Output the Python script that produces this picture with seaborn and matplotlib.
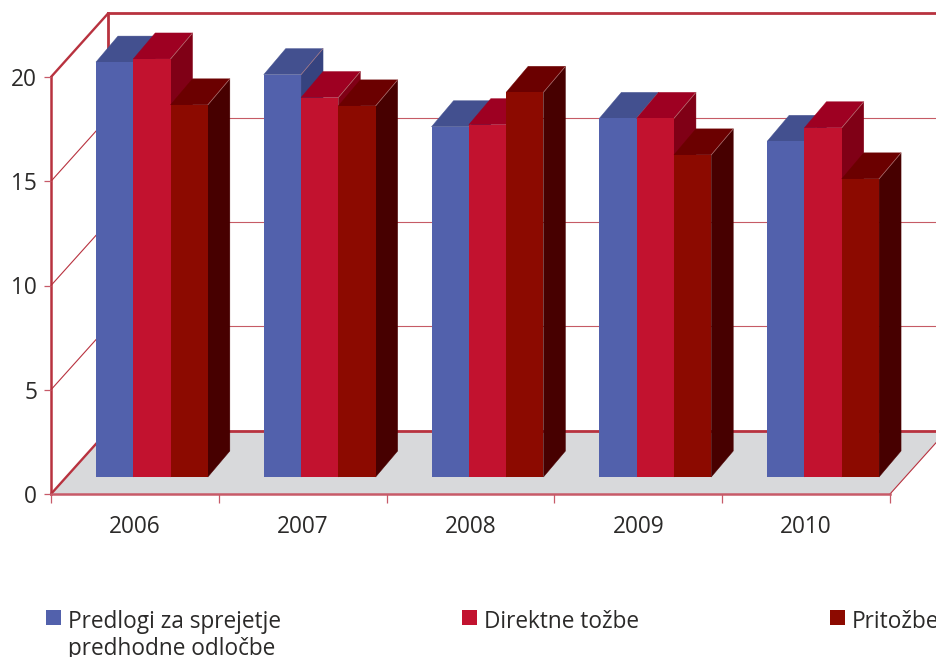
import matplotlib
matplotlib.use("Agg")
import matplotlib.pyplot as plt
from matplotlib.legend import Legend
from matplotlib.offsetbox import HPacker
from matplotlib.patches import Patch, Polygon
import pandas as pd
import seaborn as sns

years = ["2006", "2007", "2008", "2009", "2010"]
predlogi = [19.9, 19.3, 16.8, 17.2, 16.1]
direktne = [20.05, 18.2, 16.9, 17.2, 16.75]
pritozbe = [17.85, 17.8, 18.45, 15.45, 14.3]
series_names = ["Predlogi za sprejetje\npredhodne odločbe", "Direktne tožbe", "Pritožbe"]
y_ticks = [0, 5, 10, 15, 20]

front_colors = ["#5261AC", "#C2122F", "#8C0A00"]
top_colors = ["#43508F", "#9E0022", "#6B0000"]
side_colors = ["#36437F", "#800016", "#470000"]
WALL = "#B8323F"
FLOOR = "#D8D9DB"
TEXT = "#2B2A29"

W, H = 937, 657
DPI = 100
FS = 16.3
plt.rcParams["font.family"] = ["Open Sans", "DejaVu Sans"]

sx = 167.8   # px per category
sy = 20.85   # px per value unit
x0_px, y0_px = 51, 494

fig = plt.figure(figsize=(W / DPI, H / DPI), dpi=DPI)
ax = fig.add_axes([0, 0, 1, 1])
df = pd.DataFrame({
    "year": years * 3,
    "value": predlogi + direktne + pritozbe,
    "series": [s for s in series_names for _ in years],
})
sns.barplot(data=df, x="year", y="value", hue="series", palette=front_colors,
            hue_order=series_names, order=years, width=0.667, gap=0, dodge=True,
            saturation=1, legend=False, errorbar=None, ax=ax)
ax.set_xlim(-0.5 - x0_px / sx, -0.5 + (W - x0_px) / sx)
ax.set_ylim(-(H - y0_px) / sy, y0_px / sy)
ax.patch.set_alpha(0)

# depth of walls and bars, in px converted to data units
wall_dx, wall_dy = 57 / sx, 63.5 / sy
lift_dx, lift_dy = 17 / sx, 17 / sy
bar_dx, bar_dy = 22 / sx, 26 / sy
right = 4.5

# floor and walls
ax.add_patch(Polygon([(-0.5, 0), (-0.5 + wall_dx, wall_dy), (right + wall_dx, wall_dy), (right, 0)],
                     closed=True, fc=FLOOR, ec="none", zorder=0.5))
back_y = [wall_dy + v for v in y_ticks]
for v, by in zip(y_ticks, back_y):
    thick = v in (0, 20)
    ax.plot([-0.5, -0.5 + wall_dx], [v, by], color=WALL, lw=1.7 if thick else 0.8, zorder=1,
            solid_capstyle="round")
    ax.plot([-0.5 + wall_dx, right + wall_dx], [by, by], color=WALL, lw=2.0 if thick else 0.8,
            alpha=1 if thick else 0.8, zorder=1)
ax.plot([-0.5 + wall_dx] * 2, [back_y[0], back_y[-1]], color=WALL, lw=2.0, zorder=1)
ax.plot([right, right + wall_dx], [0, wall_dy], color=WALL, lw=0.8, zorder=1)

# 3D bars: the seaborn bars are lifted onto the bar plane, then given sides and tops
n = len(years)
for i, patch in enumerate(ax.patches[:len(years) * 3]):
    series_i = i // n
    x = patch.get_x() + lift_dx
    w = patch.get_width()
    v = patch.get_height()
    base = lift_dy
    patch.set_x(x)
    patch.set_y(base)
    z = 10 + x * 10
    patch.set_zorder(z + 0.2)
    patch.set_edgecolor("none")
    ax.add_patch(Polygon([(x, base + v), (x + w, base + v), (x + w + bar_dx, base + v + bar_dy),
                          (x + bar_dx, base + v + bar_dy)], closed=True,
                         fc=top_colors[series_i], ec=top_colors[series_i], lw=0.3, zorder=z))
    ax.add_patch(Polygon([(x + w, base), (x + w + bar_dx, base + bar_dy),
                          (x + w + bar_dx, base + v + bar_dy), (x + w, base + v)], closed=True,
                         fc=side_colors[series_i], ec=side_colors[series_i], lw=0.3, zorder=z + 0.1))
    ax.plot([x + w, x + w + bar_dx], [base + v, base + v + bar_dy], color="#C98A8A", lw=0.5,
            alpha=0.8, zorder=z + 0.15)

# axes
for s in ("top", "right"):
    ax.spines[s].set_visible(False)
ax.spines["left"].set_position(("data", -0.5))
ax.spines["left"].set_bounds(0, 20)
ax.spines["left"].set_color(WALL)
ax.spines["left"].set_linewidth(1.8)
ax.spines["bottom"].set_position(("data", 0))
ax.spines["bottom"].set_bounds(-0.5, right)
ax.spines["bottom"].set_color("#C75A68")
ax.spines["bottom"].set_linewidth(1.8)
ax.spines["left"].set_zorder(1.5)
ax.spines["bottom"].set_zorder(1.5)

ax.set_yticks(y_ticks)
ax.set_yticklabels([str(v) for v in y_ticks], color=TEXT, fontsize=FS)
ax.tick_params(axis="y", length=5, width=0.9, color="#C75A68", pad=5)
ax.set_xticks(range(n))
ax.set_xticklabels(years, color=TEXT, fontsize=FS)
ax.tick_params(axis="x", which="major", length=0, pad=15)
ax.set_xticks([i - 0.5 for i in range(n + 1)], minor=True)
ax.tick_params(axis="x", which="minor", length=6.5, width=0.9, color="#C75A68")
ax.set_xlabel("")
ax.set_ylabel("")

# legend: three separately anchored entries as in the reference
anchors = [(46, 610), (462, 610), (830, 610)]
for name, color, (px, py) in zip(series_names, front_colors, anchors):
    leg = Legend(ax, [Patch(fc=color, ec="none")], [name], loc="upper left",
                 bbox_to_anchor=(px / W, 1 - py / H), bbox_transform=fig.transFigure,
                 frameon=False, borderpad=0, borderaxespad=0, fontsize=FS, labelcolor=TEXT,
                 handlelength=0.66, handleheight=0.66, handletextpad=0.32, labelspacing=0)
    for t in leg.get_texts():
        t.set_linespacing(1.15)
    for box in leg.findobj(HPacker):
        box.align = "top"
    ax.add_artist(leg)

fig.savefig("out.png", dpi=DPI)
